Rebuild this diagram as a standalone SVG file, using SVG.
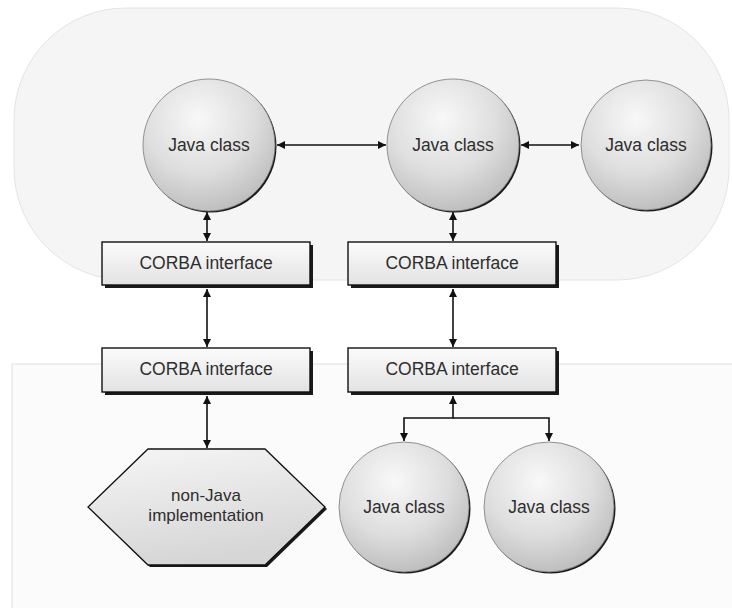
<svg xmlns="http://www.w3.org/2000/svg" width="732" height="608" viewBox="0 0 732 608">
<defs>
<radialGradient id="sph" cx="0.42" cy="0.3" r="0.75">
<stop offset="0" stop-color="#f8f8f8"/>
<stop offset="0.55" stop-color="#dedede"/>
<stop offset="1" stop-color="#bababa"/>
</radialGradient>
<linearGradient id="boxg" x1="0" y1="0" x2="0" y2="1">
<stop offset="0" stop-color="#fbfbfb"/>
<stop offset="1" stop-color="#e2e2e2"/>
</linearGradient>
<linearGradient id="hexg" x1="0" y1="0" x2="0.3" y2="1">
<stop offset="0" stop-color="#f6f6f6"/>
<stop offset="1" stop-color="#d6d6d6"/>
</linearGradient>
<marker id="ah" markerUnits="userSpaceOnUse" markerWidth="9" markerHeight="8" refX="8" refY="4" orient="auto-start-reverse">
<path d="M0,0 L8,4 L0,8 z" fill="#111"/>
</marker>
<style>
.lbl{font-family:"Liberation Sans",Arial,sans-serif;font-size:17.5px;fill:#2e2e2e;text-anchor:middle}
.shadow{fill:#1a1a1a}
.sphere{fill:url(#sph);stroke:#7a7a7a;stroke-width:0.8}
.box{fill:url(#boxg);stroke:#111;stroke-width:1.4}
.conn{fill:none;stroke:#111;stroke-width:1.6}
</style>
</defs>
<rect x="0" y="0" width="732" height="608" fill="#ffffff"/>
<g id="regions">
<rect x="14" y="8" width="715" height="272" rx="112" ry="112" fill="#f5f5f5" stroke="#e4e4e4" stroke-width="1"/>
<rect x="12" y="364" width="730" height="260" fill="#fbfbfb" stroke="#e0e0e0" stroke-width="1"/>
</g>
<g id="connectors">
<line class="conn" x1="277" y1="145" x2="386" y2="145" marker-start="url(#ah)" marker-end="url(#ah)"/>
<line class="conn" x1="521" y1="145" x2="579" y2="145" marker-start="url(#ah)" marker-end="url(#ah)"/>
<line class="conn" x1="207" y1="212" x2="207" y2="241" marker-start="url(#ah)" marker-end="url(#ah)"/>
<line class="conn" x1="453" y1="212" x2="453" y2="241" marker-start="url(#ah)" marker-end="url(#ah)"/>
<line class="conn" x1="207" y1="289" x2="207" y2="347" marker-start="url(#ah)" marker-end="url(#ah)"/>
<line class="conn" x1="453" y1="289" x2="453" y2="347" marker-start="url(#ah)" marker-end="url(#ah)"/>
<line class="conn" x1="207" y1="396" x2="207" y2="448" marker-start="url(#ah)" marker-end="url(#ah)"/>
<path class="conn" d="M453,396 V418 H404 V441" marker-start="url(#ah)" marker-end="url(#ah)"/>
<path class="conn" d="M453,418 H549 V441" marker-end="url(#ah)"/>
</g>
<g id="javaA">
<circle class="shadow" cx="210.5" cy="146.5" r="66"/>
<circle class="sphere" cx="209" cy="145" r="66"/>
<text class="lbl" x="209" y="151">Java class</text>
</g>
<g id="javaB">
<circle class="shadow" cx="454.5" cy="146.5" r="66"/>
<circle class="sphere" cx="453" cy="145" r="66"/>
<text class="lbl" x="453" y="151">Java class</text>
</g>
<g id="javaC">
<circle class="shadow" cx="647.5" cy="146.5" r="65"/>
<circle class="sphere" cx="646" cy="145" r="65"/>
<text class="lbl" x="646" y="151">Java class</text>
</g>
<g id="corbaTL">
<rect class="shadow" x="105" y="245" width="208" height="43"/>
<rect class="box" x="102" y="242" width="208" height="43"/>
<text class="lbl" x="206" y="269">CORBA interface</text>
</g>
<g id="corbaTR">
<rect class="shadow" x="351" y="245" width="208" height="43"/>
<rect class="box" x="348" y="242" width="208" height="43"/>
<text class="lbl" x="452" y="269">CORBA interface</text>
</g>
<g id="corbaBL">
<rect class="shadow" x="105" y="351" width="208" height="44"/>
<rect class="box" x="102" y="348" width="208" height="44"/>
<text class="lbl" x="206" y="375">CORBA interface</text>
</g>
<g id="corbaBR">
<rect class="shadow" x="351" y="351" width="208" height="44"/>
<rect class="box" x="348" y="348" width="208" height="44"/>
<text class="lbl" x="452" y="375">CORBA interface</text>
</g>
<g id="nonJava">
<polygon class="shadow" points="150,451 267,451 327,509 267,567 150,567 90,509"/>
<polygon points="148,449 265,449 325,507 265,565 148,565 88,507" fill="url(#hexg)" stroke="#111" stroke-width="1.3"/>
<text class="lbl" x="206" y="501" style="font-size:17px">non-Java</text>
<text class="lbl" x="206" y="521" style="font-size:17px">implementation</text>
</g>
<g id="javaD">
<circle class="shadow" cx="405.5" cy="508.5" r="65"/>
<circle class="sphere" cx="404" cy="507" r="65"/>
<text class="lbl" x="404" y="513">Java class</text>
</g>
<g id="javaE">
<circle class="shadow" cx="550.5" cy="508.5" r="65"/>
<circle class="sphere" cx="549" cy="507" r="65"/>
<text class="lbl" x="549" y="513">Java class</text>
</g>
</svg>
